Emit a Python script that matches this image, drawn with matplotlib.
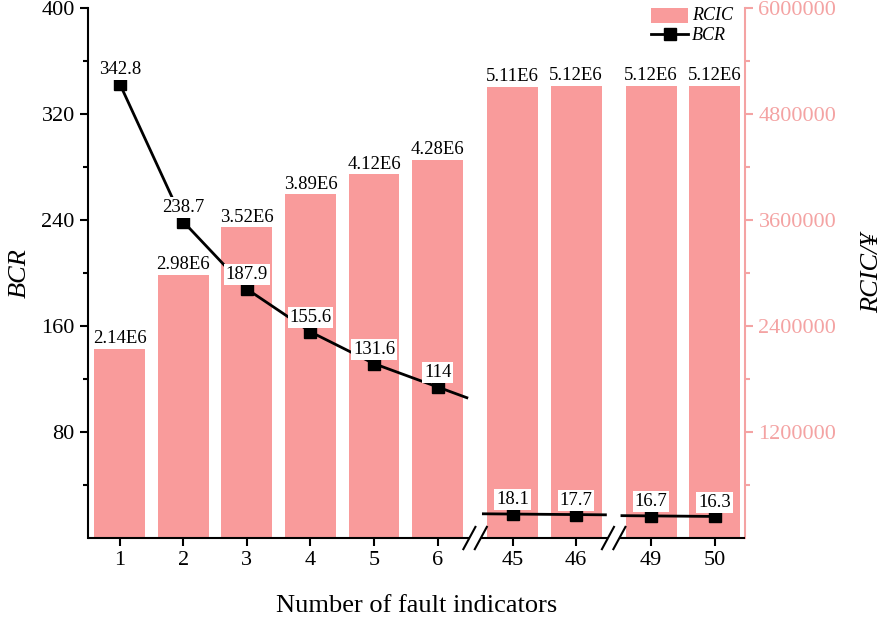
import matplotlib
matplotlib.use('Agg')
import matplotlib.pyplot as plt
import matplotlib.transforms as mtransforms
from matplotlib.patches import Patch
from matplotlib.lines import Line2D
from matplotlib.ticker import FixedLocator, StrMethodFormatter
import numpy as np

plt.rcParams['font.family'] = ['Liberation Serif', 'DejaVu Serif']

# ── data ──────────────────────────────────────────────────────────────
indicators = ['1', '2', '3', '4', '5', '6', '45', '46', '49', '50']
segment = [0, 0, 0, 0, 0, 0, 1, 1, 2, 2]          # broken-axis segment per bar
bcr = [342.8, 238.7, 187.9, 155.6, 131.6, 114, 18.1, 17.7, 16.7, 16.3]
bcr_labels = ['342.8', '238.7', '187.9', '155.6', '131.6', '114',
              '18.1', '17.7', '16.7', '16.3']
rcic = [2.14e6, 2.98e6, 3.52e6, 3.89e6, 4.12e6, 4.28e6,
        5.11e6, 5.12e6, 5.12e6, 5.12e6]
rcic_labels = ['2.14E6', '2.98E6', '3.52E6', '3.89E6', '4.12E6', '4.28E6',
               '5.11E6', '5.12E6', '5.12E6', '5.12E6']

BAR_C = '#F99B9B'
AXIS_C = '#F4A3A3'
BREAK_EXTRA = 0.18   # extra spacing at each axis break
EXT = 0.46           # how far the line runs into a break

x = np.arange(len(indicators)) + BREAK_EXTRA * np.array(segment)
nseg = max(segment) + 1

fig = plt.figure(figsize=(8.87, 6.18), dpi=100)
ax1 = fig.add_axes([0.0992, 0.1294, 0.741, 0.8576])
ax2 = ax1.twinx()
ax1.set_zorder(ax2.get_zorder() + 1)
ax1.patch.set_visible(False)

# bars (right axis)
ax2.bar(x, rcic, width=0.8, color=BAR_C, zorder=2)
for xi, v, lab in zip(x, rcic, rcic_labels):
    ax2.annotate(lab, (xi, v), xytext=(0, 4), textcoords='offset points',
                 ha='center', va='baseline', fontsize=13.5)

# BCR line (left axis), one piece per axis segment
bcr_arr = np.array(bcr)
seg_arr = np.array(segment)
for s in range(nseg):
    xs = list(x[seg_arr == s])
    ys = list(bcr_arr[seg_arr == s])
    if s > 0:
        slope = (ys[1] - ys[0]) / (xs[1] - xs[0])
        xs.insert(0, xs[0] - EXT)
        ys.insert(0, ys[0] - slope * EXT)
    if s < nseg - 1:
        slope = (ys[-1] - ys[-2]) / (xs[-1] - xs[-2])
        xs.append(xs[-1] + EXT)
        ys.append(ys[-1] + slope * EXT)
    ax1.plot(xs, ys, '-', color='black', lw=2, zorder=3)
ax1.plot(x, bcr, 's', color='black', ms=8, zorder=4)
for xi, v, lab in zip(x, bcr, bcr_labels):
    ax1.annotate(lab, (xi, v), xytext=(0, 7), textcoords='offset points',
                 ha='center', va='baseline', fontsize=13.5, zorder=5,
                 bbox=dict(boxstyle='square,pad=0.1', facecolor='white',
                           edgecolor='none'))

# axes limits / ticks
ax1.set_xlim(-0.5, 9.84)
ax1.set_ylim(0, 400)
ax2.set_ylim(0, 6e6)
ax1.set_xticks(x)
ax1.set_xticklabels(indicators)
ax1.set_yticks([80, 160, 240, 320, 400])
ax1.yaxis.set_minor_locator(FixedLocator([40, 120, 200, 280, 360]))
ax2.set_yticks([1.2e6, 2.4e6, 3.6e6, 4.8e6, 6.0e6])
ax2.yaxis.set_minor_locator(FixedLocator([0.6e6, 1.8e6, 3.0e6, 4.2e6, 5.4e6]))
ax2.yaxis.set_major_formatter(StrMethodFormatter('{x:.0f}'))

ax1.tick_params(axis='both', which='major', direction='out', length=6,
                width=1.5, labelsize=16)
ax1.tick_params(axis='y', which='minor', direction='out', length=3.5, width=1.5)
ax2.tick_params(axis='y', which='major', direction='out', length=6, width=1.5,
                labelsize=16, color=AXIS_C, labelcolor=AXIS_C)
ax2.tick_params(axis='y', which='minor', direction='out', length=3.5,
                width=1.5, color=AXIS_C)

for sp in ['top', 'right', 'bottom']:
    ax1.spines[sp].set_visible(False)
for sp in ['top', 'left', 'bottom']:
    ax2.spines[sp].set_visible(False)
ax1.spines['left'].set_linewidth(1.5)
ax2.spines['right'].set_linewidth(1.5)
ax2.spines['right'].set_color(AXIS_C)

# broken bottom axis with // marks
trans = mtransforms.blended_transform_factory(ax1.transData, ax1.transAxes)
breaks = [(x[i] + x[i + 1]) / 2 for i in range(len(x) - 1)
          if segment[i] != segment[i + 1]]
edges = [-0.5]
for c in breaks:
    edges += [c - 0.09, c + 0.09]
edges.append(9.84)
for a, b in zip(edges[::2], edges[1::2]):
    ax1.plot([a, b], [0, 0], color='black', lw=1.5, transform=trans,
             clip_on=False, solid_capstyle='butt', zorder=6)
for c in breaks:
    for off in (-0.09, 0.09):
        ax1.plot([c + off - 0.095, c + off + 0.095], [-0.021, 0.021],
                 color='black', lw=1.5, transform=trans, clip_on=False,
                 zorder=6)

ax1.set_xlabel('Number of fault indicators', fontsize=19, labelpad=18)
ax1.set_ylabel('BCR', fontsize=19, fontstyle='italic', labelpad=8)
ax2.set_ylabel('RCIC/¥', fontsize=19, fontstyle='italic', labelpad=18)

handles = [Patch(facecolor=BAR_C, edgecolor='none', label='RCIC'),
           Line2D([], [], color='black', lw=2, marker='s', ms=8, label='BCR')]
leg = ax1.legend(handles=handles, loc='upper right', bbox_to_anchor=(1.0, 1.025),
                 frameon=False, handlelength=2.6, handleheight=1.3,
                 handletextpad=0.3, labelspacing=0.2)
for t in leg.get_texts():
    t.set_fontsize(13)
    t.set_fontstyle('italic')

fig.savefig('out.png', dpi=100)
